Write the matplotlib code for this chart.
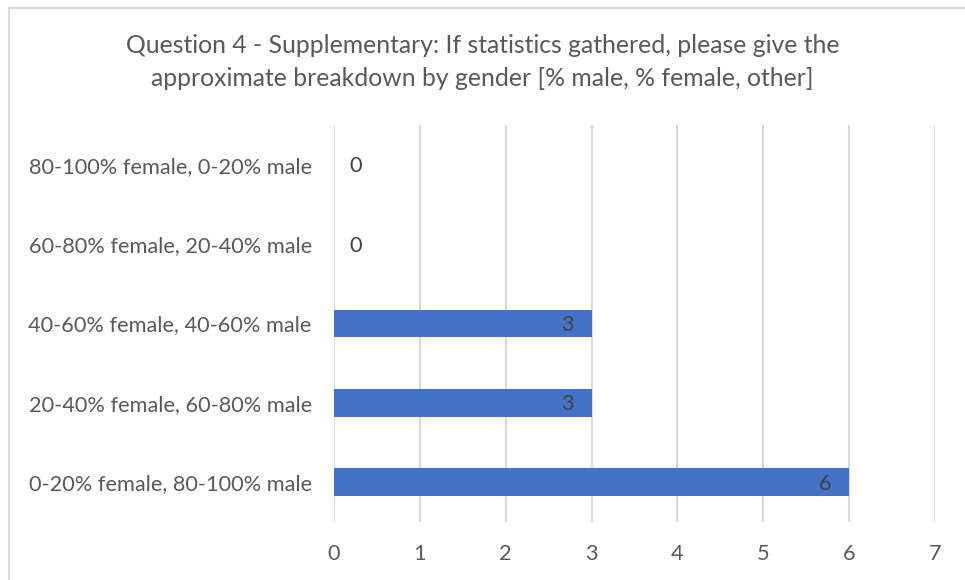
import matplotlib.pyplot as plt
from matplotlib.patches import Rectangle

categories = ["0-20% female, 80-100% male", "20-40% female, 60-80% male",
              "40-60% female, 40-60% male", "60-80% female, 20-40% male",
              "80-100% female, 0-20% male"]
counts = [6, 3, 3, 0, 0]
xticks = [0, 1, 2, 3, 4, 5, 6, 7]
title = ("Question 4 - Supplementary: If statistics gathered, please give the\n"
         "approximate breakdown by gender [% male, % female, other]")

plt.rcParams['font.family'] = ['Lato', 'DejaVu Sans']

fig = plt.figure(figsize=(9.65, 5.8), dpi=100)
ax = fig.add_axes([334/965, 1-522/580, (935-334)/965, (522-125)/580])

# chart border
fig.patches.append(Rectangle((9/965, -0.05), 1.1, 1-8/580+0.05, transform=fig.transFigure,
                             fill=False, edgecolor='#D9D9D9', linewidth=1.5))

ypos = range(len(categories))
ax.barh(ypos, counts, height=0.35, color='#4472C4', zorder=3)
ax.set_xlim(0, 7)
ax.set_ylim(-0.5, len(categories)-0.5)
ax.set_xticks(xticks)
ax.set_xticklabels([str(t) for t in xticks])
ax.set_yticks(list(ypos))
ax.set_yticklabels(categories)
ax.tick_params(length=0, labelsize=15.7, colors='#595959')
ax.tick_params(axis='x', pad=16)
ax.tick_params(axis='y', pad=16)
for s in ax.spines.values():
    s.set_visible(False)
ax.grid(axis='x', color='#D9D9D9', linewidth=1.5, zorder=0)
ax.set_axisbelow(True)

for y, v in zip(ypos, counts):
    if v > 0:
        ax.annotate(str(v), (v, y - 0.02), xytext=(-13, 0), textcoords='offset points',
                    ha='right', va='center', fontsize=15.7, color='#404040', zorder=4)
    else:
        ax.annotate(str(v), (v, y - 0.02), xytext=(11, 0), textcoords='offset points',
                    ha='left', va='center', fontsize=15.7, color='#404040', zorder=4)

fig.text(0.5, 1-62/580, title, ha='center', va='center', fontsize=17.8,
         color='#595959', linespacing=1.5)

fig.savefig('out.png', dpi=100)
